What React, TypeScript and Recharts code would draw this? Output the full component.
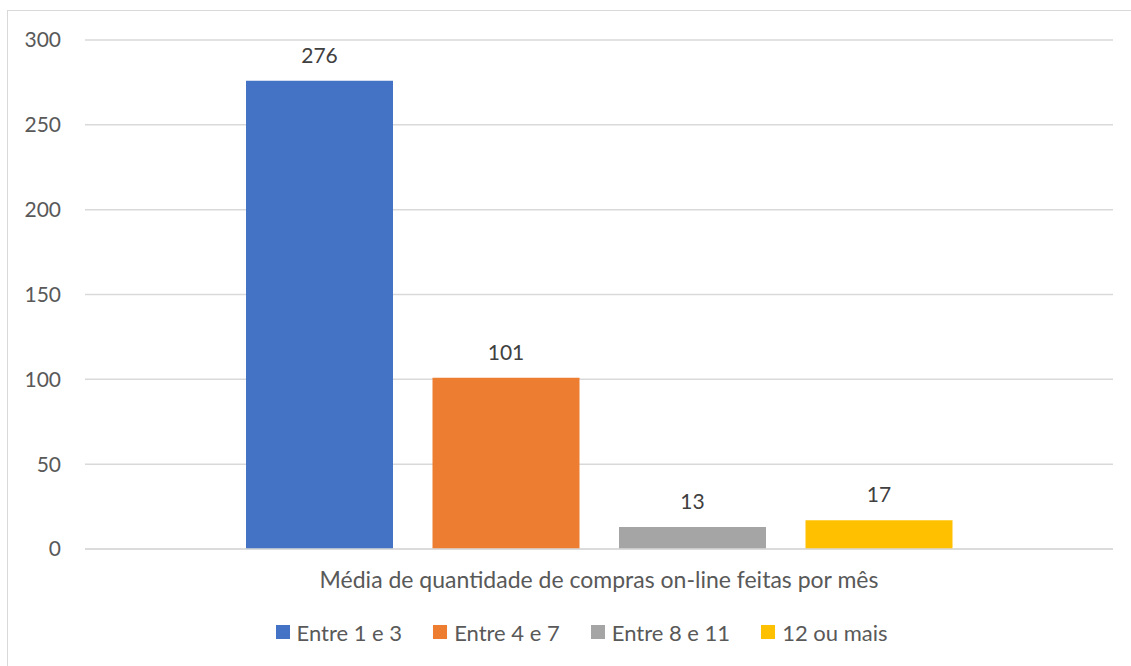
import { Bar, BarChart, CartesianGrid, LabelList, Legend, XAxis, YAxis } from "recharts";

const categories = ["Média de quantidade de compras on-line feitas por mês"];
const seriesNames = ["Entre 1 e 3", "Entre 4 e 7", "Entre 8 e 11", "12 ou mais"];
const seriesValues = [276, 101, 13, 17];
const seriesColors = ["#4472C4", "#ED7D31", "#A5A5A5", "#FFC000"];
const yTicks = [0, 50, 100, 150, 200, 250, 300];

const FONT = "Lato, 'Open Sans', sans-serif";
const TEXT = "#595959";

const data = categories.map((name) => {
  const row: { [key: string]: string | number } = { name };
  seriesNames.forEach((s, i) => {
    row[s] = seriesValues[i];
  });
  return row;
});

const LegendContent = () => (
  <div
    style={{
      display: "flex",
      justifyContent: "center",
      gap: 31,
      height: 30,
      paddingLeft: 42,
      alignItems: "center",
      fontFamily: FONT,
      fontSize: 22,
      color: TEXT,
    }}
  >
    {seriesNames.map((s, i) => (
      <div key={s} style={{ display: "flex", alignItems: "center", gap: 7 }}>
        <span style={{ width: 14, height: 14, background: seriesColors[i], display: "inline-block" }} />
        <span>{s}</span>
      </div>
    ))}
  </div>
);

const App = () => {
  return (
    <div style={{ position: "absolute", left: 0, top: 0, width: 1131, height: 666, background: "#fff" }}>
      {/* chart frame */}
      <div
        style={{
          position: "absolute",
          left: 7,
          top: 10,
          width: 1130,
          height: 670,
          border: "1.5px solid #d9d9d9",
          boxSizing: "border-box",
        }}
      />
      <BarChart
        width={1131}
        height={666}
        data={data}
        margin={{ top: 40, right: 18, left: 8, bottom: 19 }}
        barSize={147}
        barGap={39.5}
        style={{ position: "absolute", left: 0, top: 0 }}
      >
        <CartesianGrid vertical={false} stroke="#d9d9d9" strokeWidth={1.5} />
        <XAxis
          dataKey="name"
          height={68}
          stroke="#d9d9d9"
          strokeWidth={1.5}
          tickLine={false}
          tickSize={0}
          tickMargin={23}
          tick={{ fill: TEXT, fontFamily: FONT, fontSize: 23 }}
        />
        <YAxis
          domain={[0, 300]}
          ticks={yTicks}
          width={77}
          axisLine={false}
          tickLine={false}
          tickSize={0}
          tickMargin={24}
          tick={{ fill: TEXT, fontFamily: FONT, fontSize: 21 }}
        />
        <Legend verticalAlign="bottom" content={<LegendContent />} />
        {seriesNames.map((s, i) => (
          <Bar key={s} dataKey={s} fill={seriesColors[i]} isAnimationActive={false}>
            <LabelList
              dataKey={s}
              position="top"
              offset={18}
              fill="#404040"
              fontFamily={FONT}
              fontSize={21}
            />
          </Bar>
        ))}
      </BarChart>
    </div>
  );
};

export default App;
